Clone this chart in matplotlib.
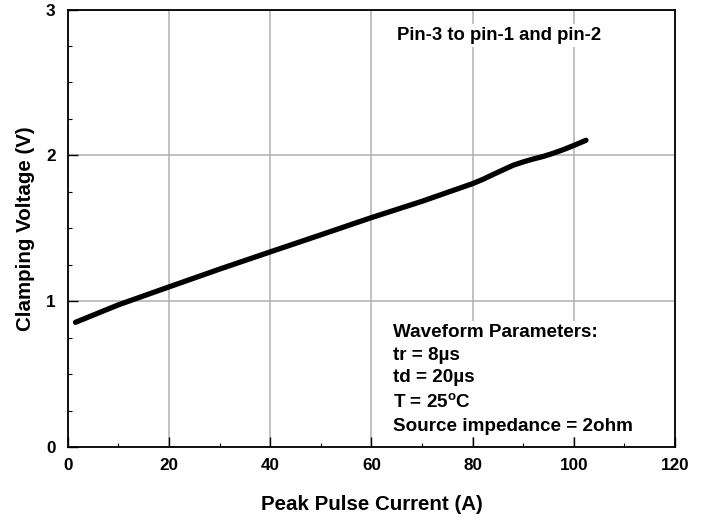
import matplotlib
matplotlib.use("Agg")
import matplotlib.pyplot as plt
from matplotlib.ticker import MultipleLocator

plt.rcParams['font.family'] = ['Liberation Sans', 'DejaVu Sans']
plt.rcParams['font.weight'] = 'bold'

# curva
corrente = [1.5, 10, 20, 30, 40, 50, 60, 70, 80, 82, 84, 86, 88, 90, 92, 94, 96, 98, 100, 102.4]
tensione = [0.855, 0.975, 1.098, 1.22, 1.338, 1.455, 1.573, 1.685, 1.806, 1.835, 1.868, 1.9,
            1.932, 1.955, 1.975, 1.993, 2.015, 2.04, 2.068, 2.103]

x_ticks = [0, 20, 40, 60, 80, 100, 120]
y_ticks = [0, 1, 2, 3]

fig = plt.figure(figsize=(7.08, 5.2), dpi=100)
ax = fig.add_axes([0.0959, 0.1404, 0.8575, 0.8413])

ax.plot(corrente, tensione, color='black', linewidth=3.8, solid_capstyle='round')

ax.set_xlim(0, 120)
ax.set_ylim(0, 3)
ax.set_xticks(x_ticks)
ax.set_yticks(y_ticks)
ax.xaxis.set_minor_locator(MultipleLocator(10))
ax.yaxis.set_minor_locator(MultipleLocator(0.25))
ax.tick_params(which='major', direction='in', length=7, width=1, labelsize=12.3, pad=8)
ax.tick_params(axis='y', which='major', pad=9)
ax.tick_params(which='minor', direction='in', length=3, width=0.8)
for lab in ax.get_xticklabels() + ax.get_yticklabels():
    lab.set_fontweight('bold')

ax.grid(True, which='major', color='#b0b0b0', linewidth=1.1)
for s in ax.spines.values():
    s.set_linewidth(1.3)

ax.set_xlabel("Peak Pulse Current (A)", fontsize=14.8, fontweight='bold', labelpad=16)
ax.set_ylabel("Clamping Voltage (V)", fontsize=14.8, fontweight='bold', labelpad=8)

ax.text(65.0, 2.82, "Pin-3 to pin-1 and pin-2", fontsize=13.3, fontweight='bold',
        va='center', ha='left', bbox=dict(facecolor='white', edgecolor='none', pad=2))
ax.text(64.2, 0.845, "Waveform Parameters:\ntr = 8\u00b5s\ntd = 20\u00b5s\nT = 25$^{\\mathregular{o}}$C\nSource impedance = 2ohm",
        fontsize=13.6, fontweight='bold', va='top', ha='left', linespacing=1.45,
        bbox=dict(facecolor='white', edgecolor='none', pad=2))

plt.savefig("out.png", dpi=100)
